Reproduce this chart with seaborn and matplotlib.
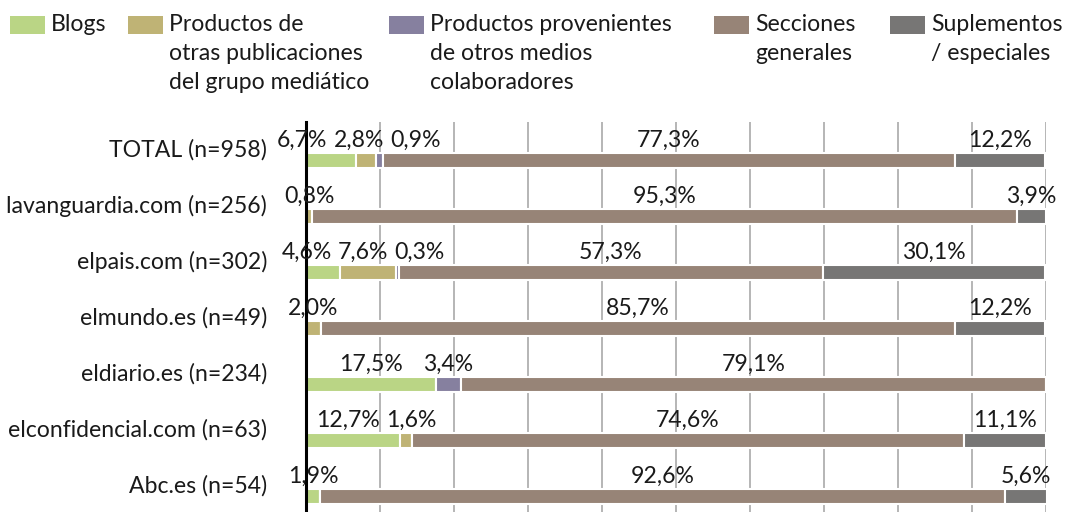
import numpy as np
import pandas as pd
import matplotlib.pyplot as plt
import seaborn as sns
from matplotlib.patches import Rectangle
from matplotlib.transforms import ScaledTranslation

# Datos (porcentajes por medio)
medios = ['TOTAL (n=958)', 'lavanguardia.com (n=256)', 'elpais.com (n=302)',
          'elmundo.es (n=49)', 'eldiario.es (n=234)', 'elconfidencial.com (n=63)',
          'Abc.es (n=54)']
categorias = ['Blogs',
              'Productos de\notras publicaciones\ndel grupo mediático',
              'Productos provenientes\nde otros medios\ncolaboradores',
              'Secciones\ngenerales',
              'Suplementos\n/ especiales']
blogs = [6.7, 0, 4.6, 0, 17.5, 12.7, 1.9]
otras_pub = [2.8, 0.8, 7.6, 2.0, 0, 1.6, 0]
otros_medios = [0.9, 0, 0.3, 0, 3.4, 0, 0]
secciones = [77.3, 95.3, 57.3, 85.7, 79.1, 74.6, 92.6]
suplementos = [12.2, 3.9, 30.1, 12.2, 0, 11.1, 5.6]
colores = ['#bad585', '#bfb375', '#86809f', '#978477', '#777675']

series = [blogs, otras_pub, otros_medios, secciones, suplementos]
valores = np.array(series)

df = pd.DataFrame({
    'fila': np.tile(np.arange(len(medios)), len(categorias)),
    'categoria': np.repeat(categorias, len(medios)),
    'valor': valores.ravel(),
})

sns.set_style('white')
plt.rcParams['font.family'] = ['Lato', 'DejaVu Sans']
FS = 16.6
TXT = '#1a1a1a'

fig = plt.figure(figsize=(10.74, 5.12), dpi=100)
ax = fig.add_axes([306 / 1074, 0, 740 / 1074, 390 / 512])

# Barras apiladas (seaborn apila el primer nivel arriba, por eso se invierte)
sns.histplot(data=df, y='fila', weights='valor', hue='categoria',
             hue_order=categorias[::-1], palette=dict(zip(categorias, colores)),
             multiple='stack', discrete=True, shrink=0.27, alpha=1,
             edgecolor='white', linewidth=1.5, legend=False, ax=ax, zorder=2)

ax.set_xlim(0, 100)
ax.set_ylim(6.28, -0.69)
ax.set_xticks(np.arange(0, 101, 10))
ax.xaxis.grid(True, color='#b0b0b0', linewidth=1.3, zorder=0)
ax.yaxis.grid(False)
ax.set_axisbelow(True)
ax.tick_params(axis='x', length=0, labelbottom=False)
ax.set_xlabel('')
ax.set_ylabel('')
for s in ['top', 'right', 'bottom']:
    ax.spines[s].set_visible(False)
ax.spines['left'].set_color('black')
ax.spines['left'].set_linewidth(2.2)
ax.spines['left'].set_zorder(5)

ax.set_yticks(np.arange(len(medios)))
ax.set_yticklabels(medios, fontsize=FS, color=TXT)
ax.tick_params(axis='y', length=0, pad=28)
for lab in ax.get_yticklabels():
    lab.set_transform(lab.get_transform() + ScaledTranslation(0, 13 / 100, fig.dpi_scale_trans))

# Etiquetas de porcentaje sobre las barras
etiquetas = []
acum = np.cumsum(valores, axis=0) - valores
for i in range(len(medios)):
    fila = []
    for j in range(len(categorias)):
        v = valores[j, i]
        if v <= 0:
            continue
        centro = acum[j, i] + v / 2
        t = ax.annotate(f'{v:.1f}'.replace('.', ',') + '%', xy=(centro, i - 0.135),
                        xytext=(0, 4.5), textcoords='offset points',
                        ha='center', va='baseline', fontsize=FS, color=TXT, zorder=6)
        fila.append(t)
    etiquetas.append(fila)

# Separar etiquetas que se solapan
fig.canvas.draw()
r = fig.canvas.get_renderer()
gap = 6
for fila in etiquetas:
    ext = [t.get_window_extent(r) for t in fila]
    izq = np.array([e.x0 for e in ext])
    der = np.array([e.x1 for e in ext])
    desp = np.zeros(len(fila))
    for _ in range(100):
        for k in range(len(fila) - 1):
            solape = (der[k] + desp[k] + gap) - (izq[k + 1] + desp[k + 1])
            if solape > 0:
                desp[k] -= solape / 2
                desp[k + 1] += solape / 2
    for t, d in zip(fila, desp):
        t.xyann = (d * 72 / fig.dpi, 4.5)

# Leyenda manual en la parte superior
W, H = 1074, 512
cuadros_x = [10, 128, 389, 714, 890]
for x, cat, col in zip(cuadros_x, categorias, colores):
    fig.add_artist(Rectangle((x / W, 1 - 34 / H), 35 / W, 18 / H,
                             transform=fig.transFigure, color=col, lw=0))
    fig.text((x + 41) / W, 1 - 14 / H, cat, ha='left', va='top',
             fontsize=FS, color=TXT, linespacing=1.48)

fig.savefig('out.png', dpi=100)
